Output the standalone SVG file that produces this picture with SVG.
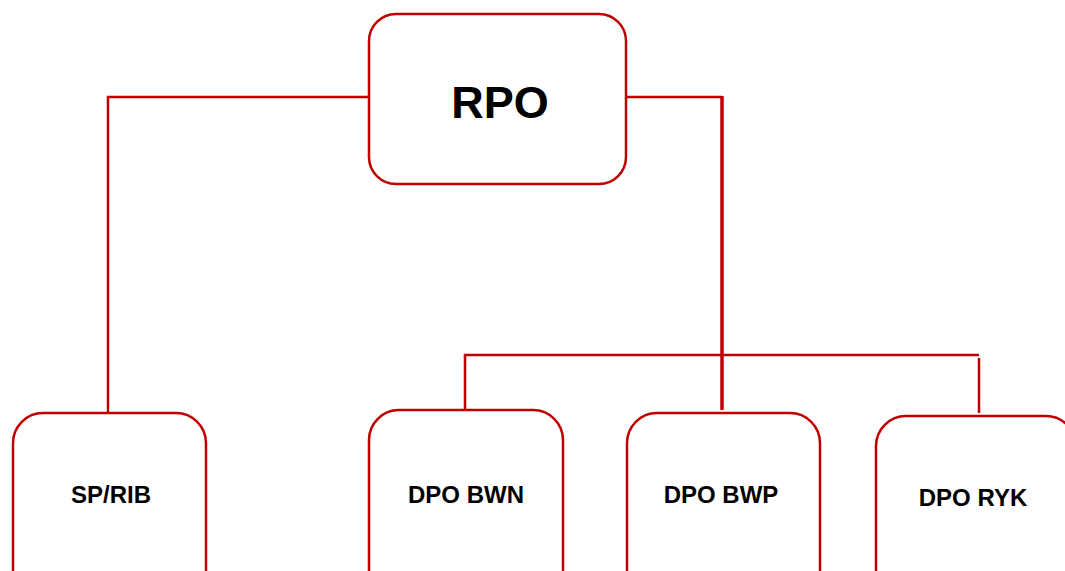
<svg xmlns="http://www.w3.org/2000/svg" width="1065" height="571" viewBox="0 0 1065 571">
<style>
.box{fill:#fff;stroke:#C00000;stroke-width:2.5}
.ln{fill:none;stroke:#C00000;stroke-width:2.5}
.t{font-family:"Liberation Sans",Arial,sans-serif;font-weight:bold;fill:#000;text-anchor:middle}
</style>
<rect width="1065" height="571" fill="#fff"/>
<g id="connectors">
<polyline class="ln" points="369,97 108,97 108,413"/>
<polyline class="ln" points="626,97 722,97"/>
<line class="ln" x1="722" y1="96" x2="722" y2="410" style="stroke-width:3.5"/>
<polyline class="ln" points="465,410 465,355 979,355"/>
<line class="ln" x1="979" y1="358" x2="979" y2="413"/>
</g>
<g id="rpo">
<rect class="box" x="369" y="14" width="257" height="170" rx="27"/>
<text class="t" x="500" y="118" font-size="45">RPO</text>
</g>
<g id="sprib">
<rect class="box" x="13" y="413" width="193" height="190" rx="30"/>
<text class="t" x="111" y="503" font-size="24">SP/RIB</text>
</g>
<g id="dpobwn">
<rect class="box" x="369" y="410" width="194" height="190" rx="30"/>
<text class="t" x="466" y="503" font-size="24">DPO BWN</text>
</g>
<g id="dpobwp">
<rect class="box" x="627" y="413" width="193" height="190" rx="30"/>
<text class="t" x="721" y="503" font-size="24">DPO BWP</text>
</g>
<g id="dporyk">
<rect class="box" x="876" y="416" width="200" height="190" rx="30"/>
<text class="t" x="973" y="506" font-size="24">DPO RYK</text>
</g>
</svg>
